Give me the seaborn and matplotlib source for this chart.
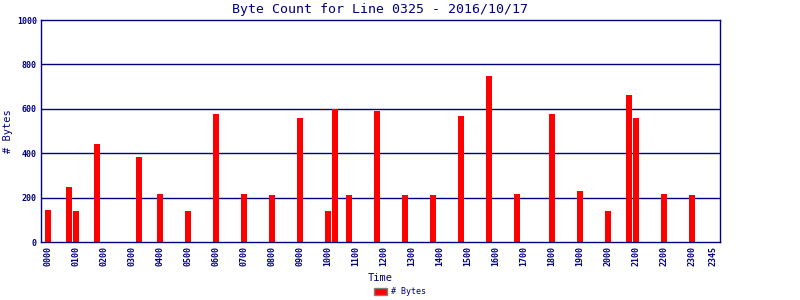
import matplotlib
matplotlib.use("Agg")
import matplotlib.pyplot as plt
from matplotlib.patches import Patch
import seaborn as sns
import pandas as pd

# ---- data ----
times = ["0000", "0045", "0100", "0145", "0315", "0400", "0500", "0600", "0700",
         "0800", "0900", "1000", "1015", "1045", "1145", "1245", "1345", "1445",
         "1545", "1645", "1800", "1900", "2000", "2045", "2100", "2200", "2300"]
byte_counts = [145, 250, 138, 442, 383, 218, 138, 578, 218,
               213, 560, 138, 600, 213, 592, 213, 213, 568,
               750, 218, 578, 230, 138, 660, 560, 218, 213]
tick_labels = ["0000", "0100", "0200", "0300", "0400", "0500", "0600", "0700",
               "0800", "0900", "1000", "1100", "1200", "1300", "1400", "1500",
               "1600", "1700", "1800", "1900", "2000", "2100", "2200", "2300", "2345"]
y_ticks = [0, 200, 400, 600, 800, 1000]

NAVY = "#000080"
RED = "#ff0000"


def slot(t):
    return (int(t[:2]) * 60 + int(t[2:])) // 15


df = pd.DataFrame({"slot": [slot(t) for t in times], "bytes": byte_counts})

sns.set_theme(style="white")
plt.rcParams["font.family"] = ["DejaVu Sans Mono", "DejaVu Sans"]

fig = plt.figure(figsize=(8, 3), dpi=100)
ax = fig.add_axes([41 / 800, 1 - 242 / 300, (720 - 41) / 800, (242 - 20) / 300])

sns.barplot(data=df, x="slot", y="bytes", native_scale=True, color=RED,
            saturation=1, width=0.86, ax=ax, linewidth=0)

ax.set_xlim(-1, 96)
ax.set_ylim(0, 1000)
ax.set_yticks(y_ticks)
ax.set_yticklabels([str(v) for v in y_ticks], fontsize=6, color=NAVY, fontweight="bold")
ax.set_xticks([slot(t) for t in tick_labels])
ax.set_xticklabels(tick_labels, rotation=90, fontsize=6, color=NAVY, fontweight="bold")
ax.tick_params(axis="both", length=0, pad=3)

for yv in y_ticks[1:-1]:
    ax.axhline(yv, color=NAVY, linewidth=1, zorder=0.5)
for sp in ax.spines.values():
    sp.set_visible(True)
    sp.set_color(NAVY)
    sp.set_linewidth(1)

ax.set_xlabel("Time", fontsize=7.5, color=NAVY, labelpad=5)
ax.set_ylabel("")
fig.text(8 / 800, 1 - 131 / 300, "# Bytes", rotation=90, ha="center", va="center",
         fontsize=7.5, color=NAVY)
ax.set_title("Byte Count for Line 0325 - 2016/10/17", fontsize=9.5, color=NAVY, pad=5)

handle = Patch(facecolor=RED, edgecolor="#808080", linewidth=1)
fig.legend([handle], ["# Bytes"], loc="lower center", bbox_to_anchor=(0.5, -0.012),
           frameon=False, fontsize=6, handlelength=1.6, handleheight=1.0,
           handletextpad=0.4, labelcolor=NAVY)

fig.savefig("out.png", dpi=100)
